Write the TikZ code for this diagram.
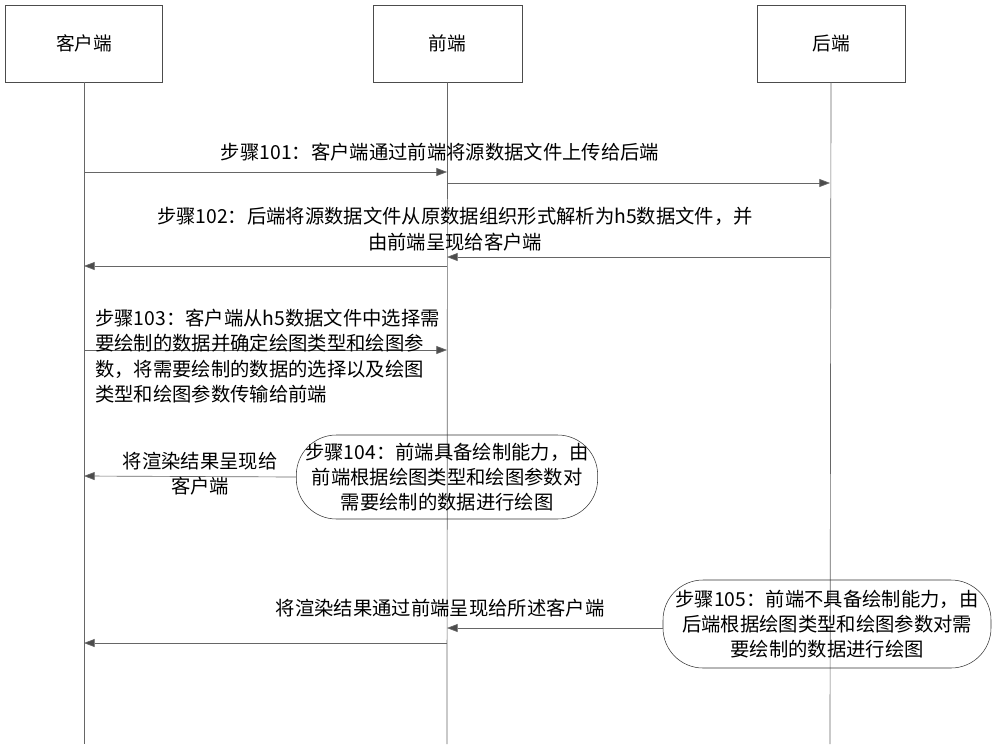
\documentclass[tikz,border=0pt]{standalone}
\usepackage{fontspec}
\setmainfont{Noto Sans CJK SC}
\usetikzlibrary{arrows.meta}
\begin{document}
\begin{tikzpicture}[x=0.75pt,y=-0.75pt,
  lbl/.style={font=\fontsize{14.5}{19}\selectfont,inner sep=0pt},
  actor/.style={draw=black!70,minimum height=58pt,font=\fontsize{14}{16}\selectfont},
  life/.style={draw=black!60,line width=0.5pt},
  msg/.style={draw=black!60,line width=0.5pt,-{Triangle[length=8pt,width=6pt,fill=black!70]}},
  round/.style={draw=black!80,rounded corners=30pt,align=center,font=\fontsize{14.5}{19}\selectfont,inner sep=1pt}]
\useasboundingbox (0,0) rectangle (1000,744);
\node[actor,minimum width=118pt] (c) at (84,43.5) {客户端};
\node[actor,minimum width=112pt] (f) at (447.5,43.5) {前端};
\node[actor,minimum width=111pt] (b) at (831,43.5) {后端};
\coordinate (cb) at (84,744); \coordinate (fb) at (447,744); \coordinate (bb) at (830,744);
\draw[life] (c.south) -- (cb);
\draw[life] (f.south) -- (fb);
\draw[life] (b.south) -- (bb);
% step 101
\coordinate (c1) at (84,172); \coordinate (f1) at (447,172);
\coordinate (f1b) at (447,183); \coordinate (b1) at (830,183);
\draw[msg] (c1) -- (f1);
\draw[msg] (f1b) -- (b1);
\node[lbl] (t1) at (440,152) {步骤101：客户端通过前端将源数据文件上传给后端};
% step 102
\coordinate (b2) at (830,257); \coordinate (f2) at (447,257);
\coordinate (f2b) at (447,266); \coordinate (c2) at (84,266);
\draw[msg] (b2) -- (f2);
\draw[msg] (f2b) -- (c2);
\node[lbl,align=center] (t2) at (455,229) {步骤102：后端将源数据文件从原数据组织形式解析为h5数据文件，并\\由前端呈现给客户端};
% step 103
\coordinate (c3) at (84,350); \coordinate (f3) at (447,350);
\draw[msg] (c3) -- (f3);
\node[lbl,align=left,anchor=west] (t3) at (95,356) {步骤103：客户端从h5数据文件中选择需\\要绘制的数据并确定绘图类型和绘图参\\数，将需要绘制的数据的选择以及绘图\\类型和绘图参数传输给前端};
% step 104
\node[round,minimum width=226pt,minimum height=63pt] (r4) at (447,477) {步骤104：前端具备绘制能力，由\\前端根据绘图类型和绘图参数对\\需要绘制的数据进行绘图};
\coordinate (c4) at (84,476);
\draw[msg] (r4.west) -- (c4);
\node[lbl,align=center] (t4) at (200,474) {将渲染结果呈现给\\客户端};
% step 105
\node[round,minimum width=246pt,minimum height=66pt] (r5) at (827,624) {步骤105：前端不具备绘制能力，由\\后端根据绘图类型和绘图参数对需\\要绘制的数据进行绘图};
\coordinate (f5) at (447,628); \coordinate (f5b) at (447,643); \coordinate (c5) at (84,643);
\draw[msg] (r5.west |- f5) -- (f5);
\draw[msg] (f5b) -- (c5);
\node[lbl] (t5) at (440,608) {将渲染结果通过前端呈现给所述客户端};
\end{tikzpicture}
\end{document}
